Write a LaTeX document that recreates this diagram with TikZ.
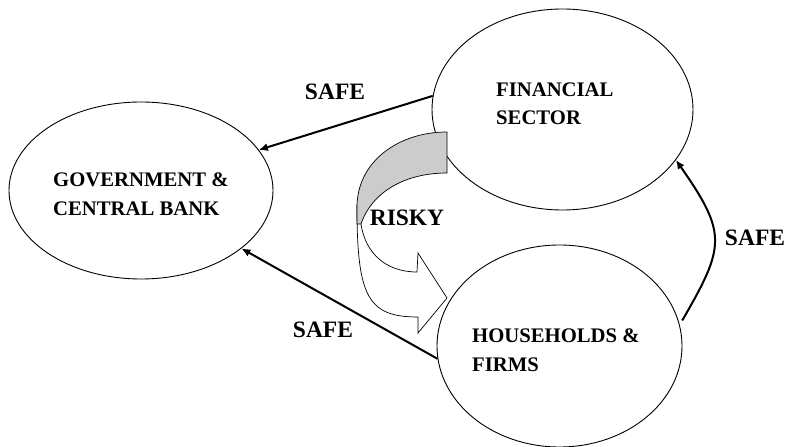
\documentclass[tikz,border=0pt]{standalone}
\usepackage{fontspec}
\setmainfont{Liberation Serif}
\usetikzlibrary{shapes.geometric,arrows.meta}

\begin{document}
\begin{tikzpicture}[x=1pt,y=1pt]
\tikzstyle{every node}+=[inner sep=0pt]
\tikzstyle{sector}=[draw=black,ellipse,line width=0.9pt]
\tikzstyle{sectortext}=[anchor=west,align=left,font=\fontsize{20.7}{28.5}\selectfont\bfseries]
\tikzstyle{flowtext}=[font=\fontsize{23.5}{28}\selectfont\bfseries]
\tikzstyle{safe}=[black,line width=2pt,-{Latex[length=9pt,width=8pt]}]
\useasboundingbox (0,0) rectangle (788,447);
\node [sector,minimum width=264,minimum height=177] (gov) at (141,256.5) {};
\node [sector,minimum width=261,minimum height=201] (fin) at (562.5,337.5) {};
\node [sector,minimum width=245,minimum height=202] (hou) at (559.5,101) {};
\node [sectortext] (govtext) at (53,253) {GOVERNMENT \&\\CENTRAL BANK};
\node [sectortext] (fintext) at (496,343) {FINANCIAL\\SECTOR};
\node [sectortext] (houtext) at (472,97) {HOUSEHOLDS \&\\FIRMS};
\draw [safe] (fin.174) -- (gov.19);
\draw [safe] (hou.186) -- (gov.-30);
\draw [safe,shorten <=5pt] (hou.10) to [out=60,in=-55,looseness=1.4] (fin.-24);
\node [flowtext] (safetop) at (335,355) {SAFE};
\node [flowtext] (safebottom) at (323,117) {SAFE};
\node [flowtext] (saferight) at (755,209) {SAFE};
\draw [black,line width=0.7pt,fill=white] (357,240) .. controls (357,150) and (368,130) .. (418,130)
  -- (418,114) -- (447,149) -- (418,194) -- (417,175)
  .. controls (385,175) and (365,195) .. (361,223) -- cycle;
\draw [black,line width=0.7pt,fill=black!20] (447,315) .. controls (398,315) and (357,285) .. (357,240)
  -- (357,223) -- (361,223) .. controls (372,255) and (405,274) .. (447,274) -- cycle;
\node [flowtext] (risky) at (407,229) {RISKY};
\end{tikzpicture}
\end{document}
